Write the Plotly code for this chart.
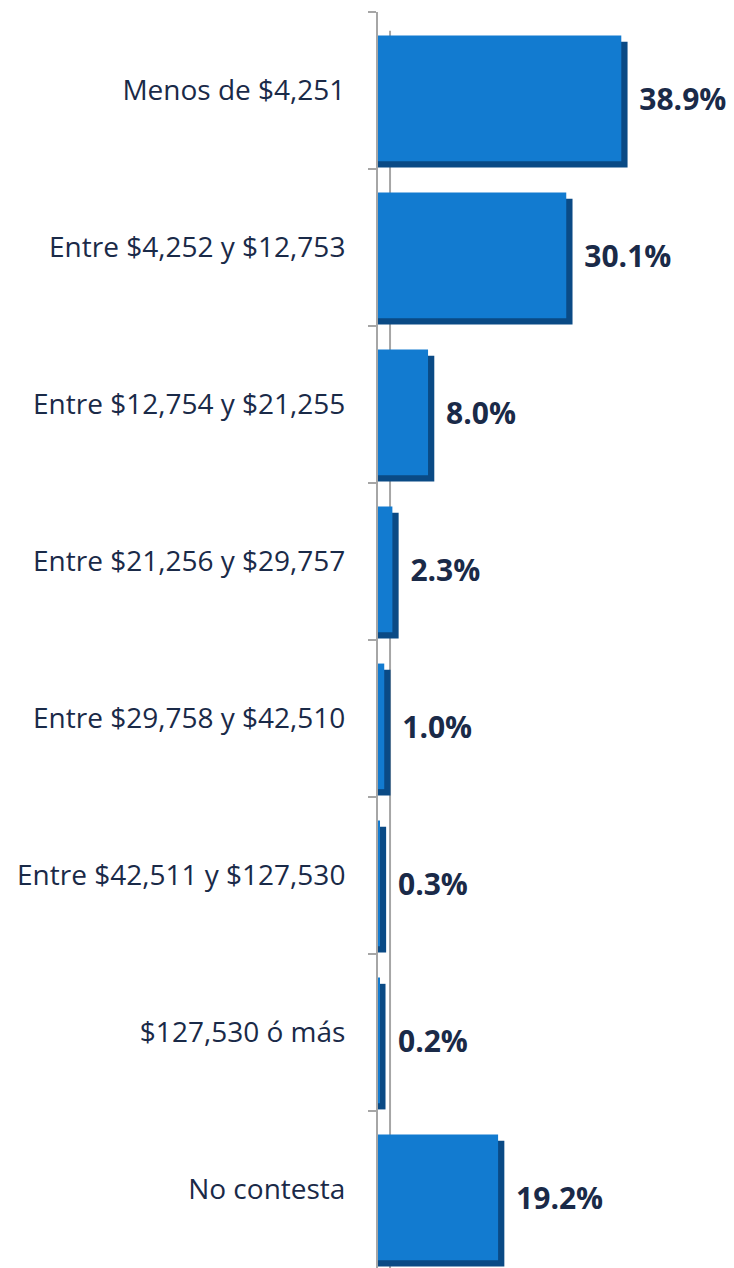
import plotly.graph_objects as go

categories = [
    "Menos de $4,251",
    "Entre $4,252 y $12,753",
    "Entre $12,754 y $21,255",
    "Entre $21,256 y $29,757",
    "Entre $29,758 y $42,510",
    "Entre $42,511 y $127,530",
    "$127,530 ó más",
    "No contesta",
]
values = [38.9, 30.1, 8.0, 2.3, 1.0, 0.3, 0.2, 19.2]
depth = 1.0  # visual 3D depth (in axis units)
value_labels = ["\u2002" + f"{v:.1f}%" for v in values]

main_color = "#127BD0"
depth_color = "#0A4A85"

fig = go.Figure()
# depth (3D side) trace
fig.add_trace(go.Bar(
    y=categories, x=[v + depth for v in values], orientation="h",
    width=0.8, offset=-0.31,
    marker=dict(color=depth_color, line=dict(width=0)),
    hoverinfo="skip", showlegend=False,
))
# front face
fig.add_trace(go.Bar(
    y=categories, x=values, orientation="h",
    width=0.8, offset=-0.35,
    marker=dict(color=main_color, line=dict(width=0)),
    text=value_labels, textposition="outside",
    textfont=dict(family="Open Sans", size=30, color="#1A2A48", weight="bold"),
    cliponaxis=False, showlegend=False,
))

fig.update_layout(
    width=734, height=1268,
    margin=dict(l=370, r=20, t=4, b=8),
    paper_bgcolor="white", plot_bgcolor="white",
    barmode="overlay",
    xaxis=dict(range=[0, 55], visible=False, automargin=False),
    yaxis=dict(
        autorange="reversed", type="category", automargin=False,
        showline=True, linecolor="#A6A6A6", linewidth=2,
        ticks="outside", ticklen=8, tickcolor="#A6A6A6", tickwidth=1.5,
        tickson="boundaries", showgrid=False,
        ticklabelstandoff=25,
        tickfont=dict(family="Open Sans", size=28, color="#1A2A48"),
    ),
    shapes=[dict(type="line", xref="paper", yref="paper",
                 x0=0.035, x1=0.035, y0=0.0, y1=0.985,
                 line=dict(color="#A6A6A6", width=2), layer="below")],
)

fig.write_html("out.html")
